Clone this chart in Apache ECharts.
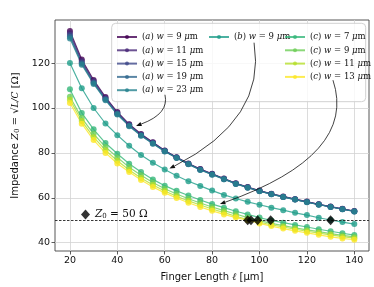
<!DOCTYPE html>
<html><head><meta charset="utf-8">
<script src="https://cdn.jsdelivr.net/npm/echarts@6/dist/echarts.min.js"></script>
<style>html,body{margin:0;padding:0;background:#fff}#c{width:374px;height:287px}</style>
</head><body><div id="c"></div>
<script>
// ---- data ----
const fingerLength = [20,25,30,35,40,45,50,55,60,65,70,75,80,85,90,95,100,105,110,115,120,125,130,135,140];
const a9  = [134.3,121.6,112.5,104.9,98.2,92.8,88.4,84.7,81.1,78.1,75.3,72.8,70.7,68.6,66.5,64.8,63.2,61.8,60.6,59.4,58.3,57.1,56.1,55.1,54.1];
const a11 = [133.4,120.9,112.0,104.5,97.9,92.6,88.2,84.6,81.0,78.0,75.2,72.7,70.6,68.5,66.4,64.7,63.1,61.7,60.5,59.3,58.2,57.1,56.0,55.0,54.0];
const a15 = [132.5,120.3,111.5,104.1,97.6,92.3,88.0,84.4,80.8,77.9,75.1,72.6,70.5,68.4,66.3,64.6,63.0,61.7,60.4,59.3,58.1,57.0,56.0,55.0,54.0];
const a19 = [131.7,119.8,111.1,103.8,97.3,92.1,87.8,84.2,80.7,77.8,75.0,72.5,70.4,68.3,66.3,64.6,63.0,61.6,60.4,59.2,58.1,57.0,55.9,54.9,53.9];
const a23 = [131.0,119.3,110.7,103.5,97.1,91.9,87.6,84.1,80.6,77.7,74.9,72.4,70.3,68.3,66.2,64.5,62.9,61.6,60.3,59.2,58.0,56.9,55.9,54.9,53.9];
const b9  = [120.0,108.8,100.0,93.1,87.9,83.2,79.1,75.6,72.6,69.8,67.4,65.3,63.2,61.3,59.7,58.2,56.9,55.6,54.5,53.3,52.3,51.1,50.1,49.2,48.3];
const c7  = [108.3,97.8,90.5,84.4,79.6,75.2,71.5,68.2,65.4,63.1,61.0,59.0,57.2,55.6,54.0,52.6,51.2,49.9,48.9,47.9,47.0,46.0,45.1,44.2,43.4];
const c9  = [105.0,95.5,88.5,82.6,78.0,73.6,70.0,66.8,64.0,61.7,59.6,57.7,55.9,54.3,52.8,51.2,49.8,48.6,47.6,46.6,45.7,44.9,44.0,43.3,42.6];
const c11 = [103.7,94.2,87.0,81.2,76.5,72.4,68.8,65.7,63.0,60.7,58.6,56.8,55.0,53.4,51.8,50.3,49.1,48.0,47.0,46.0,45.1,44.3,43.5,42.7,42.0];
const c13 = [102.2,93.0,85.7,80.0,75.3,71.5,67.9,64.8,62.2,59.9,57.8,55.9,54.2,52.6,51.2,50.0,48.6,47.4,46.3,45.3,44.4,43.5,42.6,41.9,41.3];
const crossX = [95.0,96.4,99.2,104.7,130.0];
const crossY = [50,50,50,50,50];
const xTicks = [20,40,60,80,100,120,140];
const yTicks = [40,60,80,100,120];
const z0Target = 50;

const seriesDefs = [
  {grp:'a', w:9,  data:a9,  color:'#440154'},
  {grp:'a', w:11, data:a11, color:'#482878'},
  {grp:'a', w:15, data:a15, color:'#3e4989'},
  {grp:'a', w:19, data:a19, color:'#31688e'},
  {grp:'a', w:23, data:a23, color:'#26828e'},
  {grp:'b', w:9,  data:b9,  color:'#1f9e89'},
  {grp:'c', w:7,  data:c7,  color:'#35b779'},
  {grp:'c', w:9,  data:c9,  color:'#6ece58'},
  {grp:'c', w:11, data:c11, color:'#b5de2b'},
  {grp:'c', w:13, data:c13, color:'#fde725'}
];
// annotation arrows (data coordinates): start, control, tip
const arrows = [
  {s:[60.1,105.9], c:[62.0,97.5], t:[47.9,92.0]},
  {s:[97.7,129.1], c:[103.0,95.0], t:[62.0,73.0]},
  {s:[131.0,112.4], c:[141.5,79.0], t:[83.3,57.2]}
];

const nameOf = d => '(' + d.grp + ') w = ' + d.w + ' μm';
const series = seriesDefs.map(d => ({
  name: nameOf(d), type:'line',
  data: fingerLength.map((x,i)=>[x,d.data[i]]),
  symbol:'circle', symbolSize:6, showSymbol:true,
  lineStyle:{color:d.color, width:1.2, opacity:0.8},
  itemStyle:{color:d.color, opacity:0.8},
  emphasis:{disabled:true}, animation:false, z:2
}));
series.push({
  name:'Z0', type:'scatter', symbol:'diamond', symbolSize:[9,10],
  data: crossX.map((x,i)=>[x,crossY[i]]),
  itemStyle:{color:'#000'}, z:5, animation:false,
  markLine:{silent:true, symbol:'none', animation:false,
    label:{show:false},
    lineStyle:{color:'#222', type:[2.5,1.5], width:0.9},
    data:[{yAxis:z0Target}]}
});

const serif = 'DejaVu Serif';
const rich = {
  p:{fontFamily:serif, fontSize:8.5, color:'#111'},
  i:{fontFamily:serif, fontStyle:'italic', fontSize:8.5, color:'#111'}
};
const fmt = name => {
  const m = name.match(/^\((\w)\) w = (\d+) μm$/);
  if (!m) return name;
  return '{p|(}{i|' + m[1] + '}{p|) }{i|w}{p| = ' + m[2] + ' }{i|μ}{p|m}';
};
function legendCol(names, left){
  return {
    data: names, orient:'vertical', left:left, top:32, padding:0,
    itemWidth:20, itemHeight:5, itemGap:3.3, selectedMode:false,
    formatter: fmt, textStyle:{lineHeight:10, rich:rich}, z:6
  };
}
const names = seriesDefs.map(nameOf);
const option = {
  animation:false,
  grid:{left:55, top:20, right:5, bottom:33, show:true, borderColor:'#444', borderWidth:0.9, backgroundColor:'transparent'},
  xAxis:{type:'value', min:13.7, max:146.2,
    name:'Finger Length {i|ℓ} [μm]', nameLocation:'middle', nameGap:21,
    nameTextStyle:{fontFamily:'DejaVu Sans', fontSize:10, color:'#111', rich:{i:{fontFamily:serif, fontStyle:'italic', fontSize:10}}},
    axisLine:{show:false},
    axisTick:{show:true, customValues:xTicks, length:3.5, lineStyle:{color:'#333', width:0.8}},
    axisLabel:{customValues:xTicks, fontFamily:'DejaVu Sans', fontSize:9.5, color:'#111', margin:5},
    splitLine:{show:true, lineStyle:{color:'#d3d3d3', width:0.8}}
  },
  yAxis:{type:'value', min:36.3, max:139.2,
    name:'{s|Impedance }{i|Z}{sub|0}{m| = √}{o|L/C}{m| [Ω]}', nameLocation:'middle', nameGap:28, nameRotate:90,
    nameTextStyle:{color:'#111', rich:{
      s:{fontFamily:'DejaVu Sans', fontSize:10},
      i:{fontFamily:serif, fontStyle:'italic', fontSize:10},
      sub:{fontFamily:serif, fontSize:7, padding:[4,0,0,0]},
      m:{fontFamily:serif, fontSize:10},
      o:{fontFamily:serif, fontStyle:'italic', fontSize:9}
    }},
    axisLine:{show:false},
    axisTick:{show:true, customValues:yTicks, length:3.5, lineStyle:{color:'#333', width:0.8}},
    axisLabel:{customValues:yTicks, fontFamily:'DejaVu Sans', fontSize:9.5, color:'#111', margin:5},
    splitLine:{show:true, lineStyle:{color:'#d3d3d3', width:0.8}}
  },
  legend:[
    legendCol(names.slice(0,5), 116),
    legendCol(names.slice(5,6), 208),
    legendCol(names.slice(6,10), 284),
    {data:[{name:'Z0', icon:'diamond'}], left:81, top:209, padding:0, itemWidth:9, itemHeight:10, selectedMode:false,
     formatter:()=>'{i|Z}{s|0}{p| = 50 Ω}',
     textStyle:{rich:{i:{fontFamily:serif, fontStyle:'italic', fontSize:10.5, color:'#111'},
                      s:{fontFamily:serif, fontSize:7, color:'#111', padding:[4,0,0,0]},
                      p:{fontFamily:serif, fontSize:10.5, color:'#111'}}}, z:6}
  ],
  series: series
};
const chart = echarts.init(document.getElementById('c'), null, {renderer:'canvas'});
chart.setOption(option);

// legend frame + annotation arrows
const gr = [{type:'rect', shape:{x:111.7, y:23.3, width:254, height:78.4, r:4},
  style:{fill:'rgba(255,255,255,0.8)', stroke:'#cccccc', lineWidth:0.9}, z:3, silent:true}];
arrows.forEach(a=>{
  const S = chart.convertToPixel({gridIndex:0}, a.s);
  const C = chart.convertToPixel({gridIndex:0}, a.c);
  const T = chart.convertToPixel({gridIndex:0}, a.t);
  const dx = T[0]-C[0], dy = T[1]-C[1], L = Math.hypot(dx,dy);
  const ux = dx/L, uy = dy/L, hl = 5.5, hw = 2.2;
  const bx = T[0]-ux*hl, by = T[1]-uy*hl;
  gr.push({type:'bezierCurve', shape:{x1:S[0], y1:S[1], x2:bx, y2:by, cpx1:C[0], cpy1:C[1]},
    style:{stroke:'#111', fill:null, lineWidth:0.8}, z:7, silent:true});
  gr.push({type:'polygon', shape:{points:[[T[0],T[1]],[bx-uy*hw, by+ux*hw],[bx+uy*hw, by-ux*hw]]},
    style:{fill:'#111'}, z:7, silent:true});
});
chart.setOption({graphic:gr});
</script></body></html>
